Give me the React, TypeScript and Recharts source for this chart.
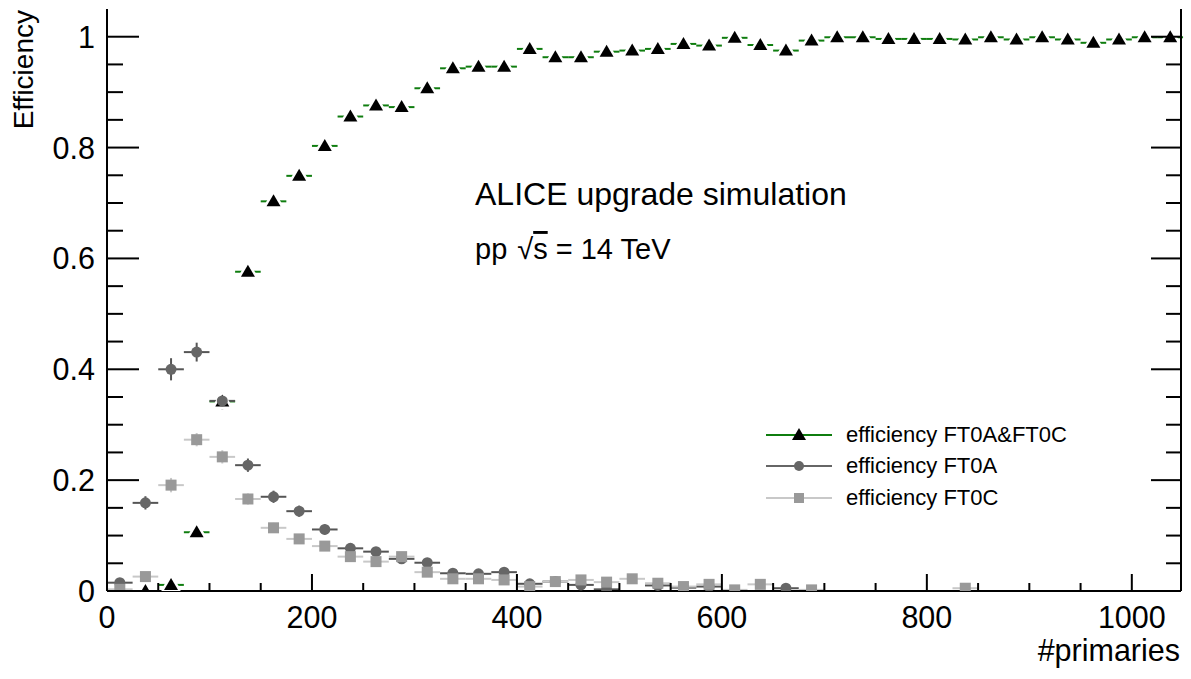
import { ComposedChart, Scatter, XAxis, YAxis, ErrorBar, Legend } from 'recharts';

// bin centres (#primaries), bins are 25 wide
const BIN_CENTERS = [
  12.5, 37.5, 62.5, 87.5, 112.5, 137.5, 162.5, 187.5, 212.5, 237.5, 262.5, 287.5, 312.5, 337.5,
  362.5, 387.5, 412.5, 437.5, 462.5, 487.5, 512.5, 537.5, 562.5, 587.5, 612.5, 637.5, 662.5, 687.5,
  712.5, 737.5, 762.5, 787.5, 812.5, 837.5, 862.5, 887.5, 912.5, 937.5, 962.5, 987.5, 1012.5, 1037.5,
];
const BIN_HALF_WIDTH = 12.5;

const EFF_AND = [
  0, 0, 0.011, 0.106, 0.342, 0.576, 0.703, 0.749, 0.803, 0.856, 0.876, 0.873, 0.907, 0.943,
  0.946, 0.946, 0.978, 0.963, 0.963, 0.973, 0.975, 0.978, 0.987, 0.984, 0.998, 0.985, 0.975, 0.993,
  0.999, 0.999, 0.996, 0.996, 0.996, 0.995, 0.999, 0.995, 0.999, 0.995, 0.989, 0.995, 0.999, 0.999,
];

const EFF_A = [
  0.015, 0.159, 0.4, 0.431, 0.343, 0.227, 0.17, 0.144, 0.111, 0.077, 0.071, 0.058, 0.051, 0.032,
  0.031, 0.034, 0.013, 0.017, 0.011, 0.003, null, 0.01, 0.006, 0.008, null, null, 0.005, null,
  null, null, null, null, null, null, null, null, null, null, null, null, null, null,
];
const ERR_A = [
  0.005, 0.012, 0.02, 0.017, 0.015, 0.012, 0.011, 0.01, 0.009, 0.008, 0.008, 0.007, 0.007, 0.005,
  0.005, 0.005, 0.004, 0.004, 0.003, 0.002, 0, 0.003, 0.002, 0.003, 0, 0, 0.002, 0,
  0, 0, 0, 0, 0, 0, 0, 0, 0, 0, 0, 0, 0, 0,
];

const EFF_C = [
  0.003, 0.026, 0.191, 0.273, 0.242, 0.166, 0.114, 0.094, 0.081, 0.062, 0.053, 0.062, 0.034, 0.022,
  0.022, 0.02, 0.008, 0.017, 0.02, 0.016, 0.022, 0.014, 0.008, 0.012, 0.002, 0.012, null, 0.002,
  null, null, null, null, null, 0.005, null, null, null, null, null, null, null, null,
];
const ERR_C = [
  0.003, 0.007, 0.013, 0.012, 0.012, 0.01, 0.009, 0.008, 0.007, 0.006, 0.006, 0.006, 0.005, 0.004,
  0.004, 0.004, 0.003, 0.004, 0.004, 0.003, 0.004, 0.003, 0.003, 0.003, 0.002, 0.003, 0, 0.002,
  0, 0, 0, 0, 0, 0.002, 0, 0, 0, 0, 0, 0, 0, 0,
];

const X_TICKS = [
  0, 50, 100, 150, 200, 250, 300, 350, 400, 450, 500, 550, 600, 650, 700, 750, 800, 850, 900, 950, 1000,
];
const X_MAJOR = [0, 200, 400, 600, 800, 1000];
const Y_TICKS = [
  0, 0.05, 0.1, 0.15, 0.2, 0.25, 0.3, 0.35, 0.4, 0.45, 0.5, 0.55, 0.6, 0.65, 0.7, 0.75, 0.8, 0.85,
  0.9, 0.95, 1,
];
const Y_MAJOR = [0, 0.2, 0.4, 0.6, 0.8, 1];

const SERIES_NAMES = ['efficiency FT0A&FT0C', 'efficiency FT0A', 'efficiency FT0C'];

const FONT = '"Liberation Sans", Arial, Helvetica, sans-serif';
const GREEN = '#0f7d0f';

const makePoints = (values: (number | null)[], errors?: number[]) =>
  BIN_CENTERS.map((x, i) => ({ x, y: values[i], ex: BIN_HALF_WIDTH, ey: errors ? errors[i] : 0 })).filter(
    (p) => p.y !== null
  );

const andData = makePoints(EFF_AND);
const aData = makePoints(EFF_A, ERR_A);
const cData = makePoints(EFF_C, ERR_C);

const isMajor = (v: number, majors: number[]) => majors.some((m) => Math.abs(m - v) < 1e-6);

// white halo leaves the small gap ROOT keeps between error bar and marker
const TriangleMark = ({ cx, cy, payload }: any) => (
  <polygon
    points={`${cx},${cy - 7} ${cx - 7},${cy + 5} ${cx + 7},${cy + 5}`}
    fill="#000"
    stroke={payload && payload.y > 0 ? '#fff' : 'none'}
    strokeWidth={5}
    strokeLinejoin="round"
    style={{ paintOrder: 'stroke' }}
  />
);
const CircleMark = ({ cx, cy }: any) => <circle cx={cx} cy={cy} r={5.5} fill="#666" />;
const SquareMark = ({ cx, cy }: any) => (
  <rect x={cx - 5.5} y={cy - 5.5} width={11} height={11} fill="#999" />
);

const BottomTick = ({ x, y, payload }: any) => {
  const major = isMajor(payload.value, X_MAJOR);
  return (
    <g>
      <line x1={x} x2={x} y1={y} y2={y - (major ? 17 : 8)} stroke="#000" strokeWidth={2} />
      {major && (
        <text x={x} y={y + 37} textAnchor="middle" fontSize={30.5} fontFamily={FONT} fill="#000">
          {payload.value}
        </text>
      )}
    </g>
  );
};

const TopTick = ({ x, y, payload }: any) => {
  const major = isMajor(payload.value, X_MAJOR);
  return <line x1={x} x2={x} y1={y} y2={y + (major ? 17 : 8)} stroke="#000" strokeWidth={2} />;
};

const LeftTick = ({ x, y, payload }: any) => {
  const major = isMajor(payload.value, Y_MAJOR);
  return (
    <g>
      <line x1={x} x2={x + (major ? 32 : 16)} y1={y} y2={y} stroke="#000" strokeWidth={2} />
      {major && (
        <text
          x={x - 12}
          y={y}
          dy={11}
          textAnchor="end"
          fontSize={30.5}
          fontFamily={FONT}
          fill="#000"
        >
          {payload.value}
        </text>
      )}
    </g>
  );
};

const RightTick = ({ x, y, payload }: any) => {
  const major = isMajor(payload.value, Y_MAJOR);
  return <line x1={x} x2={x - (major ? 30 : 15)} y1={y} y2={y} stroke="#000" strokeWidth={2} />;
};

const LegendMarker = ({ index }: { index: number }) => {
  if (index === 0) return <polygon points="33,3 26,15 40,15" fill="#000" />;
  if (index === 1) return <circle cx={33} cy={10} r={5} fill="#666" />;
  return <rect x={28} y={5} width={10} height={10} fill="#999" />;
};

const LEGEND_LINE_COLORS = [GREEN, '#666', '#c8c8c8'];

const LegendBox = () => (
  <div style={{ fontFamily: FONT, fontSize: 22, color: '#000' }}>
    {SERIES_NAMES.map((name, i) => (
      <div key={name} style={{ display: 'flex', alignItems: 'center', height: 31.5 }}>
        <svg width={80} height={20} style={{ display: 'block' }}>
          <line x1={0} x2={66} y1={10} y2={10} stroke={LEGEND_LINE_COLORS[i]} strokeWidth={2} />
          <LegendMarker index={i} />
        </svg>
        <span style={{ lineHeight: 1 }}>{name}</span>
      </div>
    ))}
  </div>
);

export default function App() {
  return (
    <div style={{ position: 'absolute', left: 0, top: 0, background: '#fff' }}>
      <ComposedChart width={1191} height={679} margin={{ top: 9, right: 0, bottom: 0, left: 0 }}>
        <XAxis
          dataKey="x"
          type="number"
          domain={[0, 1048]}
          allowDataOverflow
          ticks={X_TICKS}
          interval={0}
          height={88}
          tickSize={0}
          tickMargin={0}
          tickLine={false}
          axisLine={{ stroke: '#000', strokeWidth: 2 }}
          tick={<BottomTick />}
          label={{
            content: () => (
              <text x={1180} y={661} textAnchor="end" fontSize={30.5} fontFamily={FONT} fill="#000">
                #primaries
              </text>
            ),
          }}
        />
        <XAxis
          xAxisId="top"
          orientation="top"
          type="number"
          domain={[0, 1048]}
          allowDataOverflow
          ticks={X_TICKS}
          interval={0}
          height={0}
          tickSize={0}
          tickMargin={0}
          tickLine={false}
          axisLine={{ stroke: '#000', strokeWidth: 2 }}
          tick={<TopTick />}
        />
        <YAxis
          dataKey="y"
          type="number"
          domain={[0, 1.05]}
          allowDataOverflow
          ticks={Y_TICKS}
          interval={0}
          width={107}
          tickSize={0}
          tickMargin={0}
          tickLine={false}
          axisLine={{ stroke: '#000', strokeWidth: 2 }}
          tick={<LeftTick />}
          label={{
            content: () => (
              <text
                transform="translate(33,10) rotate(-90)"
                textAnchor="end"
                fontSize={28}
                fontFamily={FONT}
                fill="#000"
              >
                Efficiency
              </text>
            ),
          }}
        />
        <YAxis
          yAxisId="right"
          orientation="right"
          type="number"
          domain={[0, 1.05]}
          allowDataOverflow
          ticks={Y_TICKS}
          interval={0}
          width={10}
          tickSize={0}
          tickMargin={0}
          tickLine={false}
          axisLine={{ stroke: '#000', strokeWidth: 2 }}
          tick={<RightTick />}
        />

        <Scatter name={SERIES_NAMES[0]} data={andData} shape={TriangleMark} isAnimationActive={false}>
          <ErrorBar dataKey="ex" direction="x" width={0} stroke={GREEN} strokeWidth={2} />
        </Scatter>
        <Scatter name={SERIES_NAMES[1]} data={aData} shape={CircleMark} isAnimationActive={false}>
          <ErrorBar dataKey="ex" direction="x" width={0} stroke="#555" strokeWidth={2} />
          <ErrorBar dataKey="ey" direction="y" width={0} stroke="#555" strokeWidth={2} />
        </Scatter>
        <Scatter name={SERIES_NAMES[2]} data={cData} shape={SquareMark} isAnimationActive={false}>
          <ErrorBar dataKey="ex" direction="x" width={0} stroke="#c8c8c8" strokeWidth={2} />
          <ErrorBar dataKey="ey" direction="y" width={0} stroke="#c8c8c8" strokeWidth={2} />
        </Scatter>

        <Legend
          layout="horizontal"
          verticalAlign="middle"
          align="center"
          content={<LegendBox />}
          wrapperStyle={{ left: 766, top: 419, width: 360, height: 95 }}
        />

        <text x={475} y={205} fontSize={32} fontFamily={FONT} fill="#000">
          ALICE upgrade simulation
        </text>
        <text x={475} y={259} fontSize={29} fontFamily={FONT} fill="#000">
          pp
          <tspan dx={10}>√</tspan>
          <tspan style={{ textDecoration: 'overline' }}>s</tspan> = 14 TeV
        </text>
      </ComposedChart>
    </div>
  );
}
